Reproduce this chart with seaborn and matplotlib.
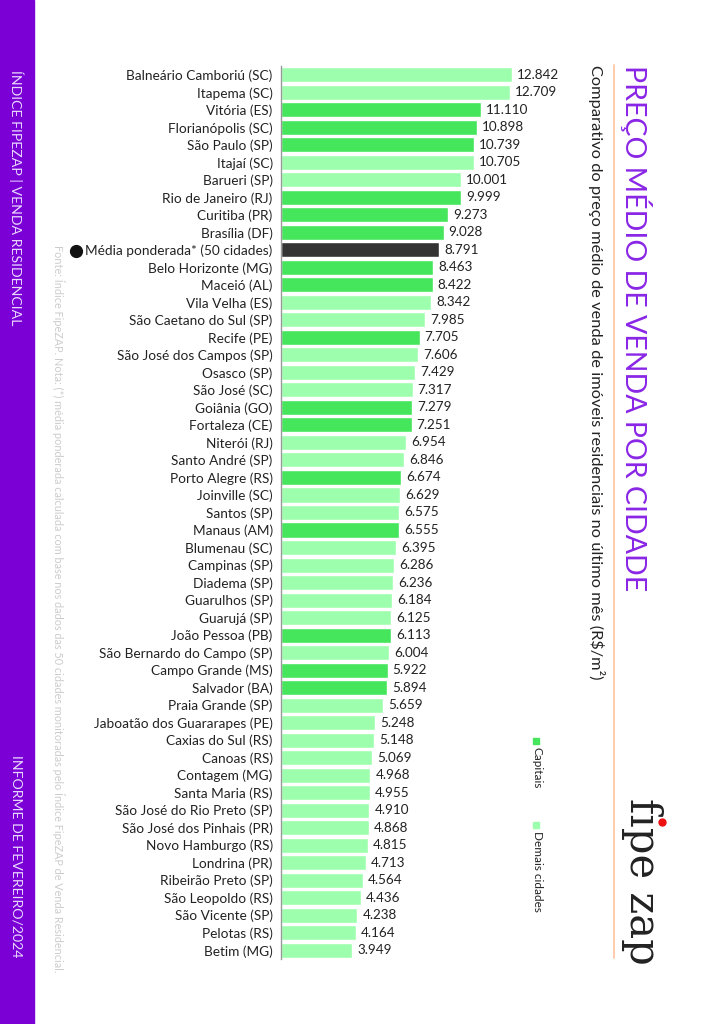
import pandas as pd
import matplotlib.pyplot as plt
import seaborn as sns

cities = [
    "Balneário Camboriú (SC)", "Itapema (SC)", "Vitória (ES)", "Florianópolis (SC)",
    "São Paulo (SP)", "Itajaí (SC)", "Barueri (SP)", "Rio de Janeiro (RJ)",
    "Curitiba (PR)", "Brasília (DF)", "Média ponderada* (50 cidades)",
    "Belo Horizonte (MG)", "Maceió (AL)", "Vila Velha (ES)", "São Caetano do Sul (SP)",
    "Recife (PE)", "São José dos Campos (SP)", "Osasco (SP)", "São José (SC)",
    "Goiânia (GO)", "Fortaleza (CE)", "Niterói (RJ)", "Santo André (SP)",
    "Porto Alegre (RS)", "Joinville (SC)", "Santos (SP)", "Manaus (AM)",
    "Blumenau (SC)", "Campinas (SP)", "Diadema (SP)", "Guarulhos (SP)",
    "Guarujá (SP)", "João Pessoa (PB)", "São Bernardo do Campo (SP)",
    "Campo Grande (MS)", "Salvador (BA)", "Praia Grande (SP)",
    "Jaboatão dos Guararapes (PE)", "Caxias do Sul (RS)", "Canoas (RS)",
    "Contagem (MG)", "Santa Maria (RS)", "São José do Rio Preto (SP)",
    "São José dos Pinhais (PR)", "Novo Hamburgo (RS)", "Londrina (PR)",
    "Ribeirão Preto (SP)", "São Leopoldo (RS)", "São Vicente (SP)",
    "Pelotas (RS)", "Betim (MG)",
]
prices = [
    12842, 12709, 11110, 10898, 10739, 10705, 10001, 9999, 9273, 9028, 8791,
    8463, 8422, 8342, 7985, 7705, 7606, 7429, 7317, 7279, 7251, 6954, 6846,
    6674, 6629, 6575, 6555, 6395, 6286, 6236, 6184, 6125, 6113, 6004, 5922,
    5894, 5659, 5248, 5148, 5069, 4968, 4955, 4910, 4868, 4815, 4713, 4564,
    4436, 4238, 4164, 3949,
]
capitals = [
    "Vitória (ES)", "Florianópolis (SC)", "São Paulo (SP)", "Rio de Janeiro (RJ)",
    "Curitiba (PR)", "Brasília (DF)", "Belo Horizonte (MG)", "Maceió (AL)",
    "Recife (PE)", "Goiânia (GO)", "Fortaleza (CE)", "Porto Alegre (RS)",
    "Manaus (AM)", "João Pessoa (PB)", "Campo Grande (MS)", "Salvador (BA)",
]
avg_label = "Média ponderada* (50 cidades)"

colors = {"Capitais": "#45e65c", "Demais cidades": "#9dffae", "Média": "#333333"}
purple = "#7a00d6"

def group(c):
    if c == avg_label:
        return "Média"
    return "Capitais" if c in capitals else "Demais cidades"

df = pd.DataFrame({"cidade": cities, "preco": prices})
df["grupo"] = df["cidade"].map(group)

def fmt(v):
    return f"{v:,}".replace(",", ".")

sns.set_style("white")
plt.rcParams["font.family"] = ["Lato", "DejaVu Sans"]

fig = plt.figure(figsize=(7.09, 10.24), dpi=100)
ax = fig.add_axes([281 / 709, (1024 - 959) / 1024, 279 / 709, 893 / 1024])

sns.barplot(data=df, y="cidade", x="preco", hue="grupo", palette=colors,
            dodge=False, width=0.86, legend=False, ax=ax, saturation=1)

for i, v in enumerate(df["preco"]):
    ax.text(v + 280, i, fmt(v), va="center", ha="left", fontsize=9.7, color="#222222")

ax.set_xlim(0, 279 / 18 * 1000)
ax.set_ylim(len(cities) - 0.5, -0.5)
ax.set_xlabel("")
ax.set_ylabel("")
ax.set_xticks([])
for s in ["top", "right", "bottom"]:
    ax.spines[s].set_visible(False)
ax.spines["left"].set_color("#999999")
ax.spines["left"].set_linewidth(1)
ax.tick_params(axis="y", which="major", length=0, pad=6, labelsize=9.8, labelcolor="#222222")
ax.set_yticks([i - 0.5 for i in range(len(cities) + 1)], minor=True)
ax.tick_params(axis="y", which="minor", length=4, color="#999999", width=1)

# bolinha preta antes do rótulo da média
fig.canvas.draw()
avg_tick = ax.get_yticklabels()[cities.index(avg_label)]
bb = avg_tick.get_window_extent()
fig.add_artist(plt.Line2D([(bb.x0 - 9) / 709], [(bb.y0 + bb.y1) / 2 / 1024],
                          transform=fig.transFigure, marker="o", color="#111111",
                          markersize=8.5))

# faixa roxa lateral
fig.patches.append(plt.Rectangle((0, 0), 34 / 709, 1, transform=fig.transFigure,
                                 color=purple, zorder=0))
fig.text(16 / 709, 1 - 70 / 1024, "ÍNDICE FIPEZAP | VENDA RESIDENCIAL", rotation=-90,
         ha="center", va="top", fontsize=10.2, color="#ead8ff")
fig.text(16 / 709, 1 - 755 / 1024, "INFORME DE FEVEREIRO/2024", rotation=-90,
         ha="center", va="top", fontsize=10.2, color="#ead8ff")

fig.text(58 / 709, 1 - 245 / 1024,
         "Fonte: Índice FipeZAP. Nota: (*) média ponderada calculada com base nos dados "
         "das 50 cidades monitoradas pelo Índice FipeZAP de Venda Residencial.",
         rotation=-90, ha="center", va="top", fontsize=7.8, color="#cccccc")

# título e subtítulo
fig.text(636 / 709, 1 - 65 / 1024, "PREÇO MÉDIO DE VENDA POR CIDADE", rotation=-90,
         ha="center", va="top", fontsize=20.5, color="#8a26e6")
fig.text(597 / 709, 1 - 65 / 1024,
         "Comparativo do preço médio de venda de imóveis residenciais no último mês (R$/m²)",
         rotation=-90, ha="center", va="top", fontsize=11.8, color="#222222")
fig.add_artist(plt.Line2D([614 / 709, 614 / 709], [1 - 65 / 1024, 1 - 958 / 1024],
                          transform=fig.transFigure, color="#ffc8a6", lw=1.3))

# legenda
for y0, name in [(738, "Capitais"), (822, "Demais cidades")]:
    fig.patches.append(plt.Rectangle((533 / 709, 1 - (y0 + 6) / 1024), 6 / 709, 6 / 1024,
                                     transform=fig.transFigure, color=colors[name]))
    fig.text(537 / 709, 1 - (y0 + 9) / 1024, name, rotation=-90, ha="center", va="top",
             fontsize=8.5, color="#222222")

# logo
fig.text(642 / 709, 1 - 798 / 1024, "f\u0131pe zap", rotation=-90, ha="center", va="top",
         fontsize=30, color="#222222", family="DejaVu Serif")
fig.add_artist(plt.Line2D([662 / 709], [1 - 822 / 1024], transform=fig.transFigure,
                          marker="o", color="#ee1111", markersize=5))

fig.savefig("out.png", dpi=100)
